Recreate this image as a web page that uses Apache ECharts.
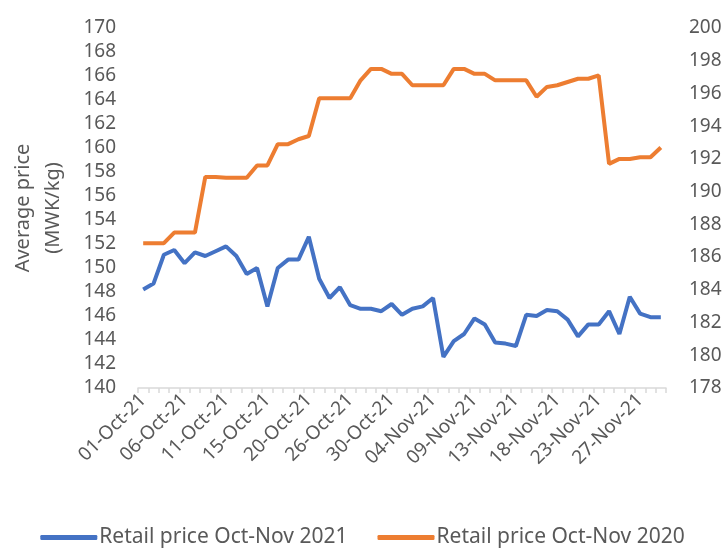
<!DOCTYPE html>
<html>
<head>
<meta charset="utf-8">
<script src="https://cdn.jsdelivr.net/npm/echarts@6/dist/echarts.min.js"></script>
<style>html,body{margin:0;padding:0;background:#fff}#c{width:725px;height:548px}</style>
</head>
<body>
<div id="c"></div>
<script>
const categories = ["01-Oct-21","02-Oct-21","04-Oct-21","05-Oct-21","06-Oct-21","07-Oct-21","08-Oct-21","09-Oct-21","11-Oct-21","12-Oct-21","13-Oct-21","14-Oct-21","15-Oct-21","16-Oct-21","18-Oct-21","19-Oct-21","20-Oct-21","21-Oct-21","22-Oct-21","25-Oct-21","26-Oct-21","27-Oct-21","28-Oct-21","29-Oct-21","30-Oct-21","01-Nov-21","02-Nov-21","03-Nov-21","04-Nov-21","05-Nov-21","06-Nov-21","08-Nov-21","09-Nov-21","10-Nov-21","11-Nov-21","12-Nov-21","13-Nov-21","15-Nov-21","16-Nov-21","17-Nov-21","18-Nov-21","19-Nov-21","20-Nov-21","22-Nov-21","23-Nov-21","24-Nov-21","25-Nov-21","26-Nov-21","27-Nov-21","29-Nov-21","30-Nov-21"];
const price2021 = [148.2,148.7,151.1,151.5,150.4,151.3,151.0,151.4,151.8,151.0,149.5,150.0,146.8,150.0,150.7,150.7,152.6,149.1,147.5,148.4,146.9,146.6,146.6,146.4,147.0,146.1,146.6,146.8,147.5,142.6,143.9,144.5,145.8,145.3,143.8,143.7,143.5,146.1,146.0,146.5,146.4,145.7,144.3,145.3,145.3,146.4,144.5,147.6,146.2,145.9,145.9];
const price2020 = [186.85,186.85,186.85,187.5,187.5,187.5,190.9,190.9,190.85,190.85,190.85,191.6,191.6,192.9,192.9,193.2,193.4,195.7,195.7,195.7,195.7,196.8,197.5,197.5,197.2,197.2,196.5,196.5,196.5,196.5,197.5,197.5,197.2,197.2,196.8,196.8,196.8,196.8,195.8,196.4,196.5,196.7,196.9,196.9,197.1,191.7,192.0,192.0,192.1,192.1,192.7];
const seriesNames = ["Retail price Oct-Nov 2021","Retail price Oct-Nov 2020"];
const yAxisName = "Average price\n(MWK/kg)";

const FONT = "Noto Sans";
const labelColor = "#595959";
const chart = echarts.init(document.getElementById('c'), null, {renderer:'canvas'});
chart.setOption({
  animation:false,
  backgroundColor:'#fff',
  textStyle:{fontFamily:FONT},
  grid:{left:135,right:59,top:28,bottom:160,containLabel:false},
  legend:{
    data:seriesNames,
    left:'center',
    top:522,
    itemWidth:57,
    itemHeight:5,
    itemGap:30,
    icon:'roundRect',
    textStyle:{fontFamily:FONT,fontSize:21,color:labelColor,padding:[0,0,0,-3]}
  },
  xAxis:{
    type:'category',
    data:categories,
    boundaryGap:true,
    axisLine:{lineStyle:{color:'#d9d9d9',width:1.5}},
    axisTick:{show:true,interval:0,length:5,lineStyle:{color:'#d9d9d9',width:1.5}},
    axisLabel:{interval:3,rotate:45,fontFamily:FONT,fontSize:19,color:labelColor,margin:9},
    splitLine:{show:false}
  },
  yAxis:[
    {
      type:'value',min:140,max:170,interval:2,
      name:yAxisName,nameLocation:'middle',nameGap:70,nameRotate:90,
      nameTextStyle:{fontFamily:FONT,fontSize:20,color:labelColor,lineHeight:30},
      axisLine:{show:false},axisTick:{show:false},splitLine:{show:false},
      axisLabel:{fontFamily:FONT,fontSize:19,color:labelColor,margin:22}
    },
    {
      type:'value',min:178,max:200,interval:2,
      axisLine:{show:false},axisTick:{show:false},splitLine:{show:false},
      axisLabel:{fontFamily:FONT,fontSize:19,color:labelColor,margin:23}
    }
  ],
  series:[
    {name:seriesNames[0],type:'line',yAxisIndex:0,data:price2021,showSymbol:false,symbol:'none',
      lineStyle:{color:'#4472C4',width:4},itemStyle:{color:'#4472C4'}},
    {name:seriesNames[1],type:'line',yAxisIndex:1,data:price2020,showSymbol:false,symbol:'none',
      lineStyle:{color:'#ED7D31',width:4},itemStyle:{color:'#ED7D31'}}
  ]
});
</script>
</body>
</html>
